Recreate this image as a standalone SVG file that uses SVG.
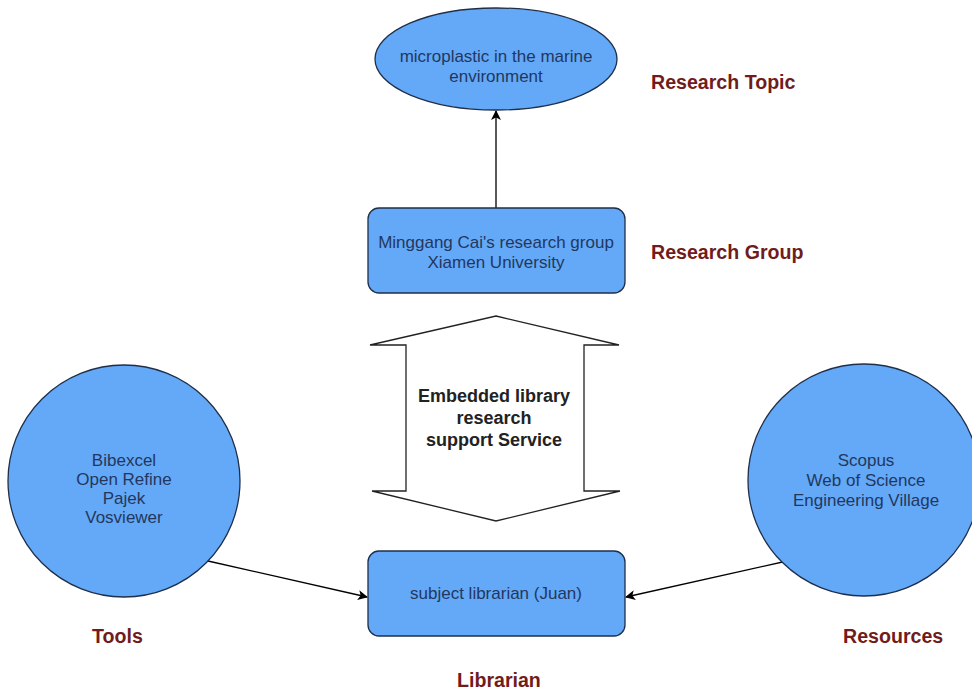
<svg xmlns="http://www.w3.org/2000/svg" width="972" height="695" viewBox="0 0 972 695">
<style>
.node{fill:#63a9f7;stroke:#1f2f4a;stroke-width:1.3}
.nt{font-family:"Liberation Sans",Arial,sans-serif;font-size:17px;fill:#23375e;text-anchor:middle}
.lbl{font-family:"Liberation Sans",Arial,sans-serif;font-size:19.6px;font-weight:bold;fill:#701c1c}
.conn{stroke:#000;stroke-width:1.3;fill:none}
.emb{font-family:"Liberation Sans",Arial,sans-serif;font-size:18px;font-weight:bold;fill:#222;text-anchor:middle}
</style>
<defs>
<marker id="ah" viewBox="0 0 10 10" refX="9" refY="5" markerWidth="10" markerHeight="10" markerUnits="userSpaceOnUse" orient="auto">
<path d="M0,0 L10,5 L0,10 L2.5,5 Z" fill="#000"/>
</marker>
</defs>
<rect width="972" height="695" fill="#fff"/>
<g id="connectors">
<line class="conn" x1="496" y1="208" x2="496" y2="111" marker-end="url(#ah)"/>
<line class="conn" x1="208" y1="561" x2="367" y2="597" marker-end="url(#ah)"/>
<line class="conn" x1="787" y1="561" x2="626" y2="597" marker-end="url(#ah)"/>
</g>
<g id="topic">
<ellipse class="node" cx="496" cy="59" rx="121" ry="51"/>
<text class="nt" x="496" y="62">microplastic in the marine</text>
<text class="nt" x="496" y="82">environment</text>
</g>
<g id="group">
<rect class="node" x="368" y="208" width="257" height="85" rx="11"/>
<text class="nt" x="496" y="248">Minggang Cai's research group</text>
<text class="nt" x="496" y="268">Xiamen University</text>
</g>
<g id="service">
<path d="M496,316 L619,345 L584,345 L584,491 L620,491 L496,521 L372,491 L406,491 L406,345 L370,345 Z" fill="#fff" stroke="#222" stroke-width="1.3"/>
<text class="emb" x="494" y="402">Embedded library</text>
<text class="emb" x="494" y="424">research</text>
<text class="emb" x="494" y="446">support Service</text>
</g>
<g id="tools">
<circle class="node" cx="124" cy="481" r="116"/>
<text class="nt" x="124" y="466">Bibexcel</text>
<text class="nt" x="124" y="485">Open Refine</text>
<text class="nt" x="124" y="504">Pajek</text>
<text class="nt" x="124" y="523">Vosviewer</text>
</g>
<g id="resources">
<circle class="node" cx="864" cy="480" r="116"/>
<text class="nt" x="866" y="466">Scopus</text>
<text class="nt" x="866" y="486">Web of Science</text>
<text class="nt" x="866" y="506">Engineering Village</text>
</g>
<g id="librarian">
<rect class="node" x="368" y="551" width="257" height="85" rx="11"/>
<text class="nt" x="496" y="599">subject librarian (Juan)</text>
</g>
<g id="labels">
<text class="lbl" x="651" y="89">Research Topic</text>
<text class="lbl" x="651" y="259">Research Group</text>
<text class="lbl" x="92" y="643">Tools</text>
<text class="lbl" x="843" y="643">Resources</text>
<text class="lbl" x="457" y="687">Librarian</text>
</g>
</svg>
